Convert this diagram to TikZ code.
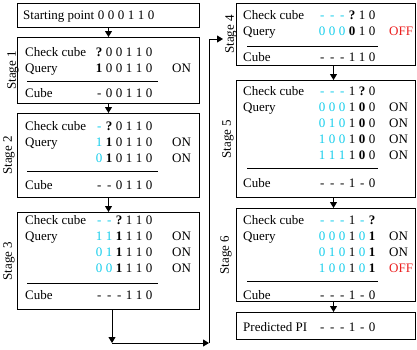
\documentclass[tikz,border=0pt]{standalone}
\usepackage{fontspec}
\setmainfont{Liberation Serif}
\usetikzlibrary{arrows.meta, positioning}
\definecolor{qcyan}{RGB}{20,205,235}
\definecolor{offred}{RGB}{235,30,30}
\newcommand{\sbit}[1]{\makebox[10pt]{#1}}
\newcommand{\cbit}[1]{\makebox[10pt]{\textcolor{qcyan}{#1}}}
\newcommand{\kbit}[1]{\makebox[10pt]{\textbf{#1}}}

\begin{document}
\begin{tikzpicture}[x=1pt, y=-1pt,
    every node/.style={font=\fontsize{13}{15}\selectfont},
    stagebox/.style={draw, line width=1pt, inner sep=0pt, anchor=north west},
    lbl/.style={anchor=base west, inner sep=0pt},
    stagelbl/.style={rotate=90, anchor=south, inner sep=2pt},
    sepline/.style={line width=0.9pt},
    arrow/.style={-{Triangle[length=6pt, width=7pt]}, line width=1pt}
]
    \useasboundingbox (0,0) rectangle (417,349);

    % Left column boxes
    \node[stagebox, minimum width=182pt, minimum height=24pt] (start) at (17,3) {};
    \node[stagebox, minimum width=182pt, minimum height=66pt] (s1) at (17,37) {};
    \node[stagebox, minimum width=182pt, minimum height=84pt] (s2) at (17,113) {};
    \node[stagebox, minimum width=182pt, minimum height=97pt] (s3) at (17,212) {};

    % Right column boxes
    \node[stagebox, minimum width=179pt, minimum height=62pt] (s4) at (236,3) {};
    \node[stagebox, minimum width=179pt, minimum height=117pt] (s5) at (236,80) {};
    \node[stagebox, minimum width=179pt, minimum height=93pt] (s6) at (236,208) {};
    \node[stagebox, minimum width=179pt, minimum height=27pt] (pi) at (236,312) {};

    % Stage labels
    \node[stagelbl, yshift=-4pt] at (s1.west) {Stage 1};
    \node[stagelbl] at (s2.west) {Stage 2};
    \node[stagelbl] at (s3.west) {Stage 3};
    \node[stagelbl, yshift=-3pt] at (s4.west) {Stage 4};
    \node[stagelbl] at (s5.west) {Stage 5};
    \node[stagelbl, yshift=2pt] at (s6.west) {Stage 6};

    % Starting point
    \node[lbl] (startlbl) at (23,19.5) {Starting point};
    \node[lbl] (startval) at (96,19.5) {\sbit0\sbit0\sbit0\sbit1\sbit1\sbit0};

    % Stage 1
    \node[lbl] (c1) at (25,56) {Check cube};
    \node[lbl] (c1v) at (94,56) {\kbit?\sbit0\sbit0\sbit1\sbit1\sbit0};
    \node[lbl] (q1) at (25,72) {Query};
    \node[lbl] (q1v) at (94,72) {\kbit1\sbit0\sbit0\sbit1\sbit1\sbit0};
    \node[lbl] (q1r) at (172,72) {ON};
    \draw[sepline] (27,81) -- (158,81);
    \node[lbl] (k1) at (25,97.5) {Cube};
    \node[lbl] (k1v) at (94,97.5) {\sbit-\sbit0\sbit0\sbit1\sbit1\sbit0};

    % Stage 2
    \node[lbl] (c2) at (25,130.5) {Check cube};
    \node[lbl] (c2v) at (94,130.5) {\cbit-\kbit?\sbit0\sbit1\sbit1\sbit0};
    \node[lbl] (q2) at (25,146.5) {Query};
    \node[lbl] (q2a) at (94,146.5) {\cbit1\kbit1\sbit0\sbit1\sbit1\sbit0};
    \node[lbl] (q2ar) at (172,146.5) {ON};
    \node[lbl] (q2b) at (94,162.5) {\cbit0\kbit1\sbit0\sbit1\sbit1\sbit0};
    \node[lbl] (q2br) at (172,162.5) {ON};
    \draw[sepline] (27,171) -- (158,171);
    \node[lbl] (k2) at (25,189) {Cube};
    \node[lbl] (k2v) at (94,189) {\sbit-\sbit-\sbit0\sbit1\sbit1\sbit0};

    % Stage 3
    \node[lbl] (c3) at (25,224.5) {Check cube};
    \node[lbl] (c3v) at (94,224.5) {\cbit-\cbit-\kbit?\sbit1\sbit1\sbit0};
    \node[lbl] (q3) at (25,240.5) {Query};
    \node[lbl] (q3a) at (94,240.5) {\cbit1\cbit1\kbit1\sbit1\sbit1\sbit0};
    \node[lbl] (q3ar) at (172,240.5) {ON};
    \node[lbl] (q3b) at (94,256.5) {\cbit0\cbit1\kbit1\sbit1\sbit1\sbit0};
    \node[lbl] (q3br) at (172,256.5) {ON};
    \node[lbl] (q3c) at (94,272.5) {\cbit0\cbit0\kbit1\sbit1\sbit1\sbit0};
    \node[lbl] (q3cr) at (172,272.5) {ON};
    \draw[sepline] (27,283) -- (158,283);
    \node[lbl] (k3) at (25,299.5) {Cube};
    \node[lbl] (k3v) at (94,299.5) {\sbit-\sbit-\sbit-\sbit1\sbit1\sbit0};

    % Stage 4
    \node[lbl] (c4) at (243,19.5) {Check cube};
    \node[lbl] (c4v) at (317,19.5) {\cbit-\cbit-\cbit-\kbit?\sbit1\sbit0};
    \node[lbl] (q4) at (243,35.5) {Query};
    \node[lbl] (q4v) at (317,35.5) {\cbit0\cbit0\cbit0\kbit0\sbit1\sbit0};
    \node[lbl, text=offred] (q4r) at (389,35.5) {OFF};
    \draw[sepline] (247,46) -- (378,46);
    \node[lbl] (k4) at (243,61.5) {Cube};
    \node[lbl] (k4v) at (317,61.5) {\sbit-\sbit-\sbit-\sbit1\sbit1\sbit0};

    % Stage 5
    \node[lbl] (c5) at (243,95.5) {Check cube};
    \node[lbl] (c5v) at (317,95.5) {\cbit-\cbit-\cbit-\sbit1\kbit?\sbit0};
    \node[lbl] (q5) at (243,111.5) {Query};
    \node[lbl] (q5a) at (317,111.5) {\cbit0\cbit0\cbit0\sbit1\kbit0\sbit0};
    \node[lbl] (q5ar) at (389,111.5) {ON};
    \node[lbl] (q5b) at (317,127.5) {\cbit0\cbit1\cbit0\sbit1\kbit0\sbit0};
    \node[lbl] (q5br) at (389,127.5) {ON};
    \node[lbl] (q5c) at (317,143.5) {\cbit1\cbit0\cbit0\sbit1\kbit0\sbit0};
    \node[lbl] (q5cr) at (389,143.5) {ON};
    \node[lbl] (q5d) at (317,159.5) {\cbit1\cbit1\cbit1\sbit1\kbit0\sbit0};
    \node[lbl] (q5dr) at (389,159.5) {ON};
    \draw[sepline] (247,168) -- (378,168);
    \node[lbl] (k5) at (243,187.5) {Cube};
    \node[lbl] (k5v) at (317,187.5) {\sbit-\sbit-\sbit-\sbit1\sbit-\sbit0};

    % Stage 6
    \node[lbl] (c6) at (243,224.5) {Check cube};
    \node[lbl] (c6v) at (317,224.5) {\cbit-\cbit-\cbit-\sbit1\cbit-\kbit?};
    \node[lbl] (q6) at (243,240.5) {Query};
    \node[lbl] (q6a) at (317,240.5) {\cbit0\cbit0\cbit0\sbit1\cbit0\kbit1};
    \node[lbl] (q6ar) at (389,240.5) {ON};
    \node[lbl] (q6b) at (317,256.5) {\cbit0\cbit1\cbit0\sbit1\cbit0\kbit1};
    \node[lbl] (q6br) at (389,256.5) {ON};
    \node[lbl] (q6c) at (317,272.5) {\cbit1\cbit0\cbit0\sbit1\cbit0\kbit1};
    \node[lbl, text=offred] (q6cr) at (389,272.5) {OFF};
    \draw[sepline] (247,281) -- (378,281);
    \node[lbl] (k6) at (243,299) {Cube};
    \node[lbl] (k6v) at (317,299) {\sbit-\sbit-\sbit-\sbit1\sbit-\sbit0};

    % Predicted PI
    \node[lbl] (pil) at (243,331.5) {Predicted PI};
    \node[lbl] (piv) at (317,331.5) {\sbit-\sbit-\sbit-\sbit1\sbit-\sbit0};

    % Arrows
    \draw[arrow] (start.south) -- (s1.north);
    \draw[arrow] (s1.south) -- (s2.north);
    \draw[arrow] (s2.south) -- (s3.north);
    \draw[arrow] ([xshift=7.5pt]s4.south) -- ([xshift=7.5pt]s5.north);
    \draw[arrow] ([xshift=7.5pt]s5.south) -- ([xshift=7.5pt]s6.north);
    \draw[arrow] ([xshift=7.5pt]s6.south) -- ([xshift=7.5pt]pi.north);

    % Stage 3 to stage 4
    \coordinate (turn1) at (112,343);
    \coordinate (turn2) at (209,343);
    \coordinate (turn3) at (209,39);
    \coordinate (tip4) at (223,39);
    \draw[arrow] (s3.south -| turn1) -- (turn1);
    \draw[arrow] (turn1) -- (turn2);
    \draw[arrow] (turn2) -- (turn3) -- (tip4);
\end{tikzpicture}
\end{document}
